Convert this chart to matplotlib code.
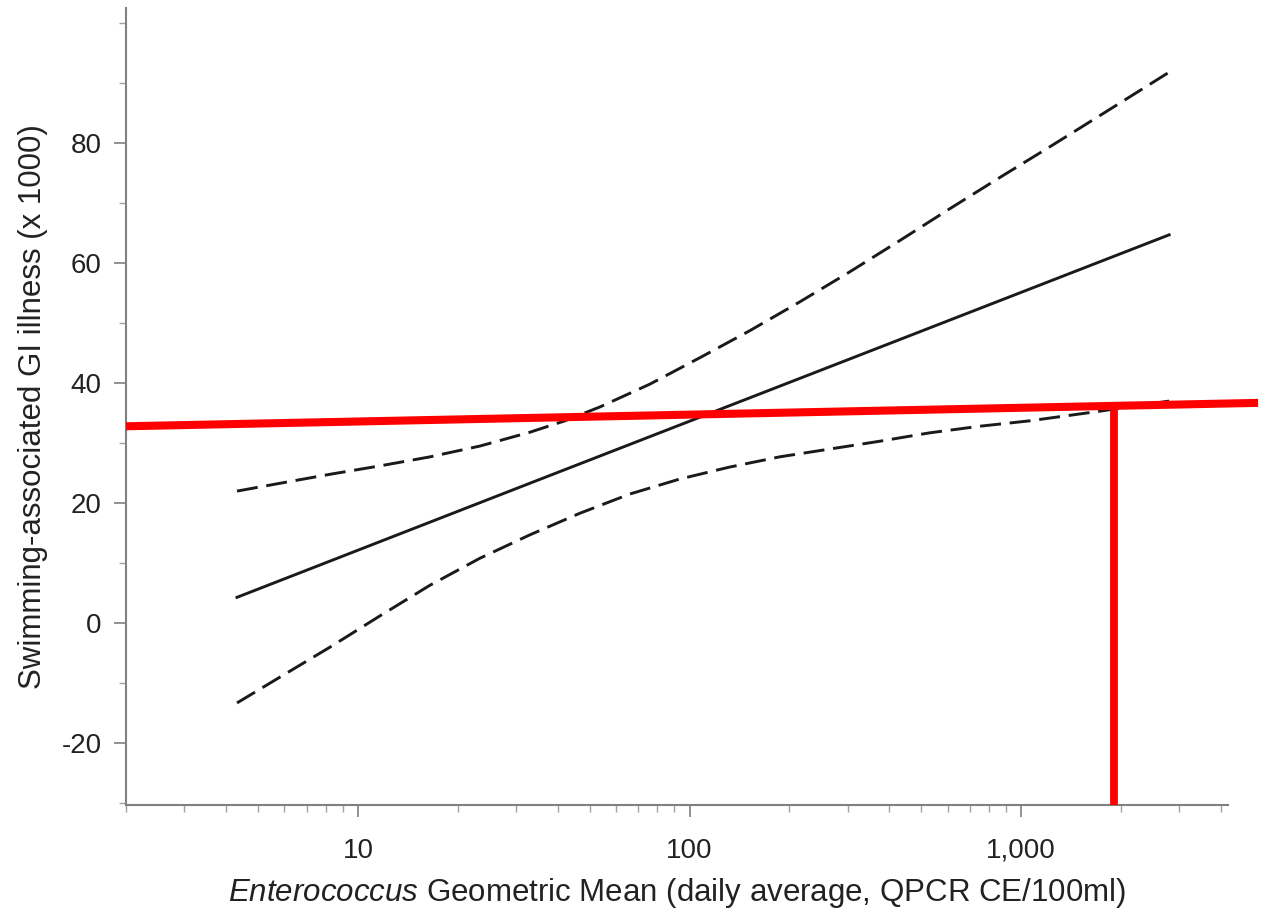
import matplotlib
matplotlib.use("Agg")
import matplotlib.pyplot as plt
import matplotlib.ticker as mtick
import numpy as np

plt.rcParams['font.family'] = ['Liberation Sans', 'DejaVu Sans']
plt.rcParams['mathtext.fontset'] = 'custom'
plt.rcParams['mathtext.rm'] = 'Liberation Sans'
plt.rcParams['mathtext.it'] = 'Liberation Sans:italic'
plt.rcParams['axes.unicode_minus'] = False

# model estimate (solid) and confidence limits (dashed)
fit_x = [4.32, 32.97, 264.1, 2792]
fit_y = [4.3, 23.3, 42.7, 64.7]

upper_x = [4.32, 5.82, 8.24, 11.65, 16.48, 23.31, 32.97, 42.03, 53.56, 75.77,
           107.2, 151.6, 214.5, 303.4, 429.1, 607.0, 858.6, 1214, 1718, 2792]
upper_y = [22.0, 23.3, 24.8, 26.2, 27.7, 29.5, 31.8, 33.7, 36.0, 39.8,
           44.2, 48.7, 53.5, 58.5, 63.7, 69.0, 74.2, 79.3, 84.5, 91.8]

lower_x = [4.32, 5.82, 8.24, 11.65, 16.48, 23.31, 32.97, 46.65, 65.96, 93.3,
           132.0, 186.7, 264.1, 373.6, 528.4, 747.2, 1057, 1718, 2792]
lower_y = [-13.3, -9.0, -4.0, 1.2, 6.3, 10.8, 14.7, 18.3, 21.5, 24.0,
           26.0, 27.7, 29.0, 30.3, 31.7, 32.8, 33.7, 35.3, 37.0]

# red annotation: threshold line and the matching concentration
thresh_x = [2, 5176]
thresh_y = [32.8, 36.7]
cut_x = 1905
cut_y = 36.3

fig = plt.figure(figsize=(12.81, 9.16), dpi=100)
ax = fig.add_axes([0.0984, 0.1212, 0.8602, 0.8701])

dash = (7.2, 3.0)
ax.plot(fit_x, fit_y, color='#1a1a1a', lw=2.1)
ax.plot(upper_x, upper_y, color='#1a1a1a', lw=2.1, dashes=dash)
ax.plot(lower_x, lower_y, color='#1a1a1a', lw=2.1, dashes=dash)

ax.plot(thresh_x, thresh_y, color='#ff0000', lw=5.8, clip_on=False,
        solid_capstyle='butt', zorder=5)
ax.plot([cut_x, cut_x], [-30.3, cut_y], color='#ff0000', lw=5.6,
        solid_capstyle='butt', zorder=5)

ax.set_xscale('log')
ax.set_xlim(2, 4200)
ax.set_ylim(-30.3, 102.5)

ax.set_xticks([10, 100, 1000])
ax.xaxis.set_major_formatter(mtick.StrMethodFormatter('{x:,.0f}'))
ax.xaxis.set_minor_locator(mtick.LogLocator(base=10, subs=np.arange(2, 10)))
ax.xaxis.set_minor_formatter(mtick.NullFormatter())
ax.set_yticks([-20, 0, 20, 40, 60, 80])
ax.yaxis.set_minor_locator(mtick.MultipleLocator(10))

for s in ['top', 'right']:
    ax.spines[s].set_visible(False)
for s in ['left', 'bottom']:
    ax.spines[s].set_color('#808080')
    ax.spines[s].set_linewidth(1.5)

ax.tick_params(which='major', length=8.5, width=1.2, color='#808080',
               labelsize=20, labelcolor='#222222')
ax.tick_params(which='minor', length=5, width=1.0, color='#a0a0a0')
ax.tick_params(axis='x', which='major', pad=15)
ax.tick_params(axis='y', which='major', pad=9)

ax.set_xlabel(r'$\it{Enterococcus}$ Geometric Mean (daily average, QPCR CE/100ml)',
              fontsize=22.5, color='#222222', labelpad=9)
ax.set_ylabel('Swimming-associated GI illness (x 1000)', fontsize=22.5,
              color='#222222', labelpad=10)

fig.savefig('out.png', dpi=100)
